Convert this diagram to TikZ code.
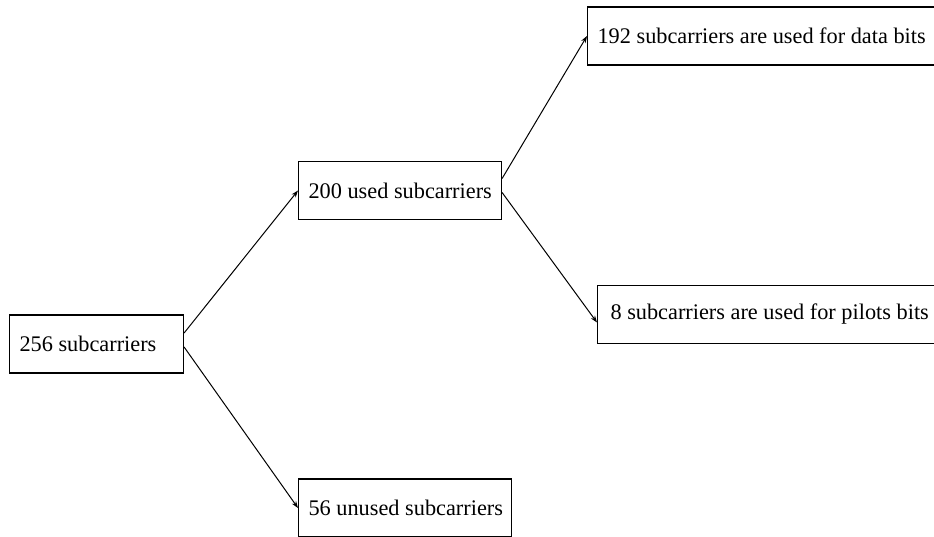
\documentclass[tikz,border=0pt]{standalone}
\usepackage{fontspec}
\setmainfont{Liberation Serif}
\usetikzlibrary{arrows.meta}
\newcommand{\boxtext}[2]{\makebox[#1][l]{#2}}
\tikzset{
  box/.style={draw,line width=1.1pt,anchor=west,minimum height=58pt,
    inner ysep=0pt,inner xsep=10pt,
    font=\fontsize{22.3}{26}\selectfont},
  link/.style={line width=1pt,-{Stealth[length=7pt,width=5pt]}}
}
\begin{document}
\begin{tikzpicture}[x=1pt,y=-1pt]
  \useasboundingbox (0,0) rectangle (934,536);
  % boxes
  \node[box] (n256) at (9,344) {\boxtext{154pt}{256 subcarriers}};
  \node[box] (n200) at (298,190.5) {\boxtext{183pt}{200 used subcarriers}};
  \node[box] (n56) at (298,508) {\boxtext{193pt}{56 unused subcarriers}};
  \node[box] (n192) at (587,36) {\boxtext{328pt}{192 subcarriers are used for data bits}};
  \node[box] (n8) at (597,314.5) {\boxtext{322pt}{\hspace{3pt}8 subcarriers are used for pilots bits}};
  % links
  \draw[link] ([yshift=11pt]n256.east) -- (n200.west);
  \draw[link] ([yshift=-3pt]n256.east) -- (n56.west);
  \draw[link] ([yshift=12pt]n200.east) -- (n192.west);
  \draw[link] ([yshift=-2pt]n200.east) -- ([yshift=-8pt]n8.west);
\end{tikzpicture}
\end{document}
